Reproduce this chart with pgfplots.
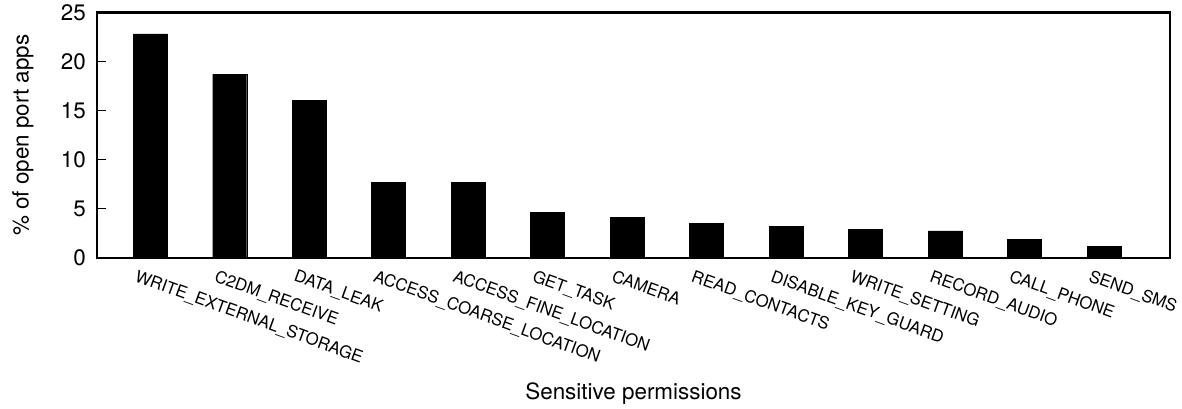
\documentclass[border=0pt]{standalone}
\usepackage{fontspec}
\setmainfont{TeX Gyre Heros}
\usepackage{pgfplots}
\pgfplotsset{compat=1.18}
\begin{document}
\begin{tikzpicture}
\path[use as bounding box] (-97bp,-151bp) rectangle (1085bp,258bp);
\begin{axis}[
  at={(0,0)}, anchor=south west,
  scale only axis, width=1073bp, height=245.7bp,
  xmin=-0.67, xmax=12.83, ymin=0, ymax=25,
  ybar, bar width=34bp,
  xtick={0,1,2,3,4,5,6,7,8,9,10,11,12},
  xticklabels={WRITE\_EXTERNAL\_STORAGE, C2DM\_RECEIVE, DATA\_LEAK, ACCESS\_COARSE\_LOCATION, ACCESS\_FINE\_LOCATION, GET\_TASK, CAMERA, READ\_CONTACTS, DISABLE\_KEY\_GUARD, WRITE\_SETTING, RECORD\_AUDIO, CALL\_PHONE, SEND\_SMS},
  major x tick style={draw=none},
  ytick={0,5,10,15,20,25},
  ytick pos=left, tick align=inside,
  major tick length=9bp,
  tick style={black, line width=1bp},
  axis line style={line width=2.5bp},
  /pgf/number format/assume math mode=true,
  yticklabel style={font=\fontsize{22.5}{26}\selectfont, inner sep=0pt, xshift=-11bp},
  xticklabel style={font=\fontsize{16.8}{20}\selectfont, inner sep=0pt, xshift=-12bp, yshift=-11bp, rotate=-20, anchor=north west},
  ylabel={\% of open port apps},
  ylabel style={font=\fontsize{22.5}{26}\selectfont, at={(axis description cs:-0.0792,0.5)}, anchor=north, inner sep=0pt},
  xlabel={Sensitive permissions},
  xlabel style={font=\fontsize{22.5}{26}\selectfont, at={(axis description cs:0.5,0)}, anchor=north, inner sep=0pt, yshift=-125bp},
]
\addplot[fill=black, draw=black] coordinates {
  (0,22.8) (1,18.7) (2,16.05) (3,7.7) (4,7.7) (5,4.65) (6,4.15)
  (7,3.55) (8,3.2) (9,2.9) (10,2.75) (11,1.9) (12,1.2)
};
\end{axis}
\end{tikzpicture}
\end{document}
